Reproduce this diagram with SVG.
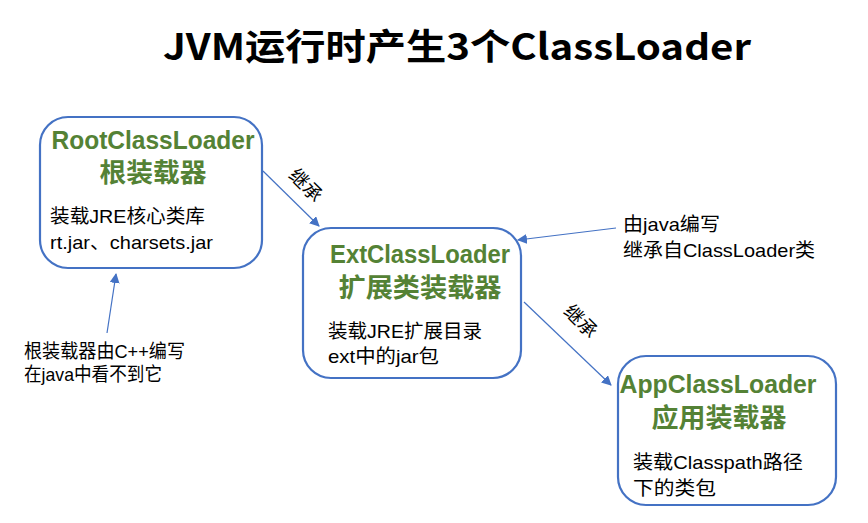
<svg xmlns="http://www.w3.org/2000/svg" width="868" height="523" viewBox="0 0 868 523">
<style>
.box{fill:#fff;stroke:#4472C4;stroke-width:2.2}
.h{font-family:"Liberation Sans","Noto Sans CJK SC",sans-serif;font-weight:bold;fill:#548235;font-size:26px;text-anchor:middle}
.t{font-family:"Liberation Sans","Noto Sans CJK SC",sans-serif;fill:#000;font-size:19px}
.c{stroke:#4472C4;stroke-width:1.2;fill:none;marker-end:url(#a)}
</style>
<defs>
<marker id="a" viewBox="0 0 10 10" refX="9" refY="5" markerWidth="10" markerHeight="10" markerUnits="userSpaceOnUse" orient="auto">
<path d="M0,0L10,5L0,10z" fill="#4472C4"/>
</marker>
</defs>
<rect width="868" height="523" fill="#fff"/>
<text x="457" y="60" font-family="Noto Sans CJK SC,sans-serif" font-weight="bold" font-size="36" text-anchor="middle" textLength="588" lengthAdjust="spacingAndGlyphs">JVM运行时产生3个ClassLoader</text>
<g id="root">
<rect class="box" x="40" y="117" width="222" height="151" rx="28"/>
<text class="h" x="153" y="149" textLength="203" lengthAdjust="spacingAndGlyphs">RootClassLoader</text>
<text class="h" x="153" y="182" textLength="107" lengthAdjust="spacingAndGlyphs">根装载器</text>
<text class="t" x="50" y="223" textLength="155" lengthAdjust="spacingAndGlyphs">装载JRE核心类库</text>
<text class="t" x="50" y="249" textLength="163" lengthAdjust="spacingAndGlyphs">rt.jar、charsets.jar</text>
</g>
<g id="ext">
<rect class="box" x="303" y="228" width="218" height="150" rx="28"/>
<text class="h" x="420" y="263" textLength="180" lengthAdjust="spacingAndGlyphs">ExtClassLoader</text>
<text class="h" x="420" y="297" textLength="163" lengthAdjust="spacingAndGlyphs">扩展类装载器</text>
<text class="t" x="328" y="338" textLength="154" lengthAdjust="spacingAndGlyphs">装载JRE扩展目录</text>
<text class="t" x="328" y="363" textLength="111" lengthAdjust="spacingAndGlyphs">ext中的jar包</text>
</g>
<g id="app">
<rect class="box" x="618" y="356" width="218" height="149" rx="28"/>
<text class="h" x="718" y="393" textLength="197" lengthAdjust="spacingAndGlyphs">AppClassLoader</text>
<text class="h" x="719" y="427" textLength="135" lengthAdjust="spacingAndGlyphs">应用装载器</text>
<text class="t" x="633" y="469" textLength="170" lengthAdjust="spacingAndGlyphs">装载Classpath路径</text>
<text class="t" x="633" y="495" textLength="83" lengthAdjust="spacingAndGlyphs">下的类包</text>
</g>
<g id="note-java">
<text class="t" x="623" y="231" textLength="97" lengthAdjust="spacingAndGlyphs">由java编写</text>
<text class="t" x="623" y="257" textLength="192" lengthAdjust="spacingAndGlyphs">继承自ClassLoader类</text>
</g>
<g id="note-cpp">
<text class="t" x="24" y="358" textLength="161" lengthAdjust="spacingAndGlyphs">根装载器由C++编写</text>
<text class="t" x="24" y="381" textLength="138" lengthAdjust="spacingAndGlyphs">在java中看不到它</text>
</g>
<g id="connectors">
<path class="c" d="M263,171L319,226"/>
<path class="c" d="M616,228L518,240"/>
<path class="c" d="M524,302L611,385"/>
<path class="c" d="M107,333L116,274"/>
<text class="t" transform="translate(301,190) rotate(45)" text-anchor="middle">继承</text>
<text class="t" transform="translate(576,326) rotate(45)" text-anchor="middle">继承</text>
</g>
</svg>
